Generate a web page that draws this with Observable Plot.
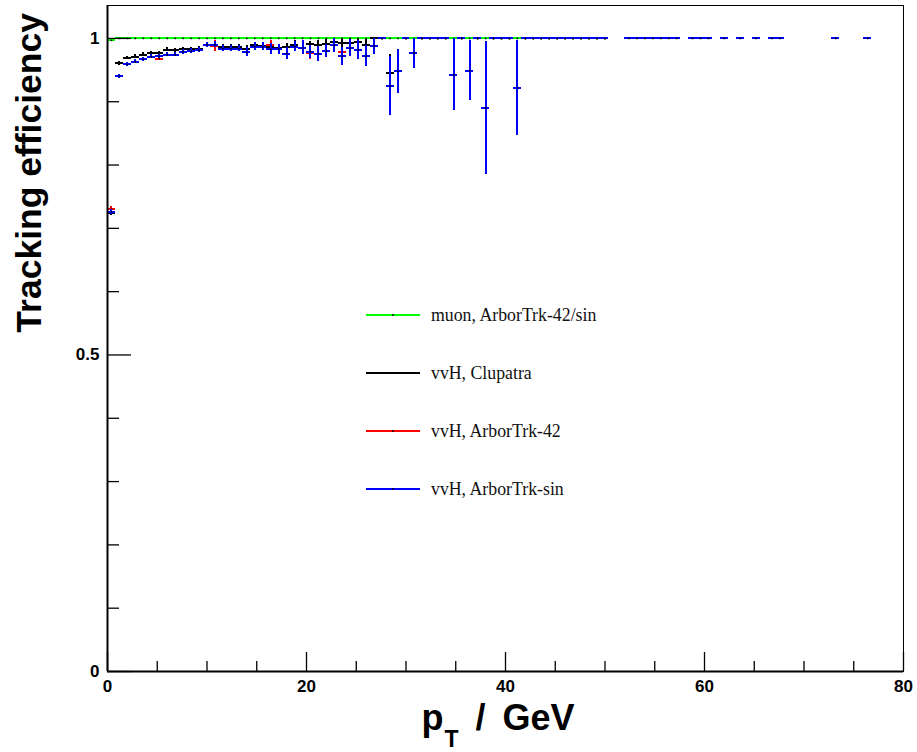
<!DOCTYPE html>
<html>
<head>
<meta charset="utf-8">
<script src="https://cdn.jsdelivr.net/npm/d3@7"></script>
<script src="https://cdn.jsdelivr.net/npm/@observablehq/plot@0.6"></script>
<style>
  html, body { margin: 0; padding: 0; background: #fff; }
  #wrap { position: relative; width: 917px; height: 752px; }
  #legend { position: absolute; left: 366px; top: 0; font-family: "Liberation Serif", "Times New Roman", serif; font-size: 17.8px; color: #111; }
  .row { position: absolute; left: 0; display: flex; align-items: center; white-space: nowrap; height: 20px; }
  .row svg { margin-right: 11px; }
</style>
</head>
<body>
<div id="wrap"><div id="legend"></div></div>
<script>
// bin centres (GeV), 0.8 GeV wide bins
const binWidth = 0.8;
const pT = [0.4, 1.2, 2.0, 2.8, 3.6, 4.4, 5.2, 6.0, 6.8, 7.6,
  8.4, 9.2, 10.0, 10.8, 11.6, 12.4, 13.2, 14.0, 14.8, 15.6,
  16.4, 17.2, 18.0, 18.8, 19.6, 20.4, 21.2, 22.0, 22.8, 23.6,
  24.4, 25.2, 26.0, 26.8, 27.6, 28.4, 29.2, 30.0, 30.8, 31.6,
  32.4, 33.2, 34.0, 34.8, 35.6, 36.4, 37.2, 38.0, 38.8, 39.6,
  40.4, 41.2, 42.0, 42.8, 43.6, 44.4, 45.2, 46.0, 46.8, 47.6,
  48.4, 49.2, 50.0, 50.8, 51.6, 52.4, 53.2, 54.0, 54.8, 55.6,
  56.4, 57.2, 58.0, 58.8, 59.6, 60.4, 61.2, 62.0, 62.8, 63.6,
  64.4, 65.2, 66.0, 66.8, 67.6, 68.4, 69.2, 70.0, 70.8, 71.6,
  72.4, 73.2, 74.0, 74.8, 75.6, 76.4];

// muon, ArborTrk-42/sin
const muonEff = [0.997, 1, 1, 1, 1, 1, 1, 1, 1, 1,
  1, 1, 1, 1, 1, 1, 1, 1, 1, 1,
  1, 1, 1, 1, 1, 1, 1, 1, 1, 1,
  1, 1, 1, 1, 1, 1, 1, 1, 1, 1,
  1, 1, 1, 1, 1, 1, 1, 1, 1, 1,
  1, 1, 1, 1, 1, 1, 1, 1, 1, 1,
  1, 1, 1];
const muonErr = [0.002];

// vvH, Clupatra
const clupatraEff = [0.724, 0.961, 0.969, 0.971, 0.974, 0.977, 0.977, 0.982, 0.981, 0.983,
  0.983, 0.984, 0.990, 0.990, 0.987, 0.987, 0.987, 0.984, 0.989, 0.988,
  0.987, 0.985, 0.986, 0.990, 0.985, 0.991, 0.989, 0.991, 0.994, 0.993,
  0.993, 0.994, 0.990, 1, 1, 0.946, 0.948, 1, 0.977, 1,
  1, 1, 1, 0.9425, 1, 0.949, 1, 0.890, 1, 1,
  1, 0.922, 1, 1, 1, 1, 1, 1, 1, 1,
  1, 1, 1];
const clupatraErr = [0.004, 0.003, 0.003, 0.003, 0.003, 0.003, 0.003, 0.003, 0.003, 0.003,
  0.003, 0.004, 0.004, 0.004, 0.004, 0.004, 0.004, 0.005, 0.005, 0.005,
  0.005, 0.006, 0.006, 0.006, 0.007, 0.004, 0.007, 0.007, 0.006, 0.007,
  0.007, 0.006, 0.009, 0, 0, 0.028, 0.035, 0, 0.024, 0,
  0, 0, 0, 0.057, 0, 0.047, 0, 0.105, 0, 0,
  0, 0.075];

// vvH, ArborTrk-sin
const sinEff = [0.726, 0.940, 0.959, 0.963, 0.967, 0.971, 0.972, 0.974, 0.974, 0.979,
  0.980, 0.981, 0.990, 0.990, 0.984, 0.984, 0.984, 0.978, 0.987, 0.987,
  0.983, 0.983, 0.976, 0.987, 0.985, 0.979, 0.976, 0.980, 0.989, 0.972,
  0.985, 0.982, 0.972, 0.988, 1, 0.925, 0.948, 1, 0.977, 1,
  1, 1, 1, 0.9425, 1, 0.949, 1, 0.890, 1, 1,
  1, 0.922, 1, 1, 1, 1, 1, 1, 1, 1,
  1, 1, 1, null, null, 1, 1, 1, 1, 1,
  1, 1, null, 1, 1, 1, null, 1, null, 1,
  null, 1, null, 1, 1, null, null, null, null, null,
  null, 1, null, null, null, 1];
const sinErr = [0.004, 0.003, 0.003, 0.003, 0.003, 0.003, 0.003, 0.003, 0.003, 0.004,
  0.004, 0.004, 0.004, 0.005, 0.005, 0.005, 0.005, 0.007, 0.006, 0.006,
  0.009, 0.008, 0.010, 0.008, 0.011, 0.010, 0.012, 0.010, 0.011, 0.014,
  0.013, 0.015, 0.017, 0.013, 0, 0.047, 0.035, 0, 0.024, 0,
  0, 0, 0, 0.057, 0, 0.047, 0, 0.105, 0, 0,
  0, 0.075];

// vvH, ArborTrk-42
const a42Eff = [0.730, 0.940, 0.959, 0.963, 0.967, 0.971, 0.968, 0.974, 0.974, 0.979,
  0.980, 0.981, 0.990, 0.988, 0.984, 0.984, 0.984, 0.978, 0.987, 0.987,
  0.990, 0.983, 0.976, 0.987, 0.985, 0.977, 0.976, 0.980, 0.989, 0.979,
  0.985, 0.982, 0.972, 0.988, 1, 0.925, 0.948, 1, 0.977, 1,
  1, 1, 1, 0.9425, 1, 0.949, 1, 0.890, 1, 1,
  1, 0.922, 1, 1, 1, 1, 1, 1, 1, 1,
  1, 1, 1];
const a42Err = [0.004, 0.003, 0.003, 0.003, 0.003, 0.003, 0.003, 0.003, 0.003, 0.004,
  0.004, 0.004, 0.004, 0.009, 0.005, 0.005, 0.005, 0.007, 0.006, 0.006,
  0.006, 0.008, 0.010, 0.008, 0.011, 0.010, 0.012, 0.010, 0.011, 0.006,
  0.013, 0.015, 0.017, 0.013, 0, 0.047, 0.035, 0, 0.024, 0,
  0, 0, 0, 0.057, 0, 0.047, 0, 0.105, 0, 0,
  0, 0.075];

const seriesNames = ["muon, ArborTrk-42/sin", "vvH, Clupatra", "vvH, ArborTrk-42", "vvH, ArborTrk-sin"];
const seriesColors = ["#00ff00", "#000000", "#ff0000", "#0000ff"];
const xMajorTicks = [0, 20, 40, 60, 80];
const xMinorTicks = [5, 10, 15, 25, 30, 35, 45, 50, 55, 65, 70, 75];
const yMajorTicks = [0, 0.5, 1];
const yMinorTicks = [0.1, 0.2, 0.3, 0.4, 0.6, 0.7, 0.8, 0.9];

function table(eff, err) {
  const rows = [];
  eff.forEach((v, i) => {
    if (v == null) return;
    rows.push({x: pT[i], y: v, e: err[i] || 0});
  });
  return rows;
}
const allSeries = [
  table(muonEff, muonErr),
  table(clupatraEff, clupatraErr),
  table(a42Eff, a42Err),
  table(sinEff, sinErr)
];

const dataMarks = [];
allSeries.forEach((rows, k) => {
  const c = seriesColors[k];
  dataMarks.push(Plot.ruleY(rows, {y: "y", x1: d => d.x - binWidth / 2, x2: d => d.x + binWidth / 2, stroke: c, strokeWidth: 2, shapeRendering: "crispEdges"}));
  dataMarks.push(Plot.ruleX(rows.filter(d => d.e > 0), {x: "x", y1: d => d.y - d.e, y2: d => Math.min(d.y + d.e, 1), stroke: c, strokeWidth: 2, shapeRendering: "crispEdges"}));
  dataMarks.push(Plot.dot(rows, {x: "x", y: "y", r: 0.9, fill: "black", stroke: null}));
});

const chart = Plot.plot({
  width: 917,
  height: 752,
  marginLeft: 107,
  marginRight: 14,
  marginTop: 5,
  marginBottom: 81,
  x: {domain: [0, 80]},
  y: {domain: [0, 1.052]},
  style: {fontFamily: "'Liberation Sans', Arial, Helvetica, sans-serif", fontWeight: "bold", fontSize: "17px", color: "black", background: "white"},
  marks: [
    Plot.frame({stroke: "black", strokeWidth: 1}),
    ...dataMarks,
    Plot.axisX({ticks: xMinorTicks, tickSize: -10, tickFormat: () => "", label: null, strokeWidth: 1.3}),
    Plot.axisX({ticks: xMajorTicks, tickSize: -19, tickFormat: () => "", label: null, strokeWidth: 1.3}),
    Plot.axisX({ticks: xMajorTicks, tickSize: 0, tickPadding: 8, tickFormat: d => String(d), label: null}),
    Plot.axisY({ticks: yMinorTicks, tickSize: -12, tickFormat: () => "", label: null, strokeWidth: 1.3}),
    Plot.axisY({ticks: yMajorTicks, tickSize: -24, tickFormat: () => "", label: null, strokeWidth: 1.3}),
    Plot.axisY({ticks: yMajorTicks, tickSize: 0, tickPadding: 8, tickFormat: d => String(d), label: null}),
    Plot.ruleX([0], {strokeWidth: 2}),
    Plot.ruleY([0], {strokeWidth: 2})
  ]
});

const svg = d3.select(chart);
// y axis title (right-aligned at top of axis, ROOT style)
svg.append("text")
  .attr("transform", "translate(41,13) rotate(-90)")
  .attr("text-anchor", "end")
  .attr("font-family", "'Liberation Sans', Arial, sans-serif")
  .attr("font-weight", "bold")
  .attr("font-size", 35.5)
  .attr("fill", "black")
  .text("Tracking efficiency");
// x axis title with subscript
const xt = svg.append("text")
  .attr("x", 498).attr("y", 730)
  .attr("text-anchor", "middle")
  .attr("font-family", "'Liberation Sans', Arial, sans-serif")
  .attr("font-weight", "bold")
  .attr("font-size", 36)
  .attr("fill", "black");
xt.append("tspan").text("p");
xt.append("tspan").attr("font-size", 23).attr("dx", 1).attr("dy", 17).text("T");
xt.append("tspan").attr("dx", 17).attr("dy", -17).text("/");
xt.append("tspan").attr("dx", 17).text("GeV");

const wrap = document.getElementById("wrap");
wrap.insertBefore(chart, wrap.firstChild);

const legend = document.getElementById("legend");
const rowY = [315, 373, 431, 489];
seriesNames.forEach((name, k) => {
  const row = document.createElement("div");
  row.className = "row";
  row.style.top = (rowY[k] - 10) + "px";
  row.innerHTML = `<svg width="54" height="20"><line x1="0" x2="54" y1="10" y2="10" stroke="${seriesColors[k]}" stroke-width="2"/><circle cx="27" cy="10" r="0.9" fill="black"/></svg><span>${name}</span>`;
  legend.appendChild(row);
});
</script>
</body>
</html>
